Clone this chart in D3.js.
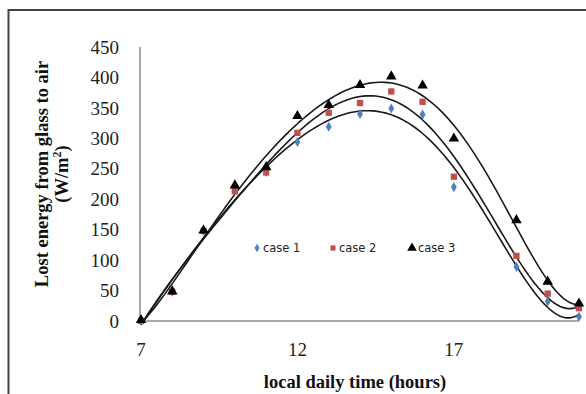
<!DOCTYPE html>
<html lang="en">
<head>
  <meta charset="UTF-8">
  <title>Lost energy from glass to air</title>
  <style>
    body { margin: 0; background: #fff; }
    svg { display: block; }
    .tick-label { font-family: "Liberation Serif", "Times New Roman", serif; font-size: 19px; fill: #222; }
    .axis-title { font-family: "Liberation Serif", "Times New Roman", serif; font-size: 18.5px; font-weight: bold; fill: #111; }
    .legend-text { font-family: "DejaVu Sans", sans-serif; font-size: 11.5px; fill: #222; }
  </style>
</head>
<body>
  <div id="chart"></div>
  <script src="https://d3js.org/d3.v7.min.js"></script>
  <script>
    // values
    const hours = [7, 8, 9, 10, 11, 12, 13, 14, 15, 16, 17, 19, 20, 21];
    const case1 = [0, 48, 148, 215, 245, 294, 319, 340, 349, 339, 220, 89, 32, 7];
    const case2 = [0, 48, 148, 213, 244, 309, 342, 358, 377, 360, 237, 107, 45, 21];
    const case3 = [0, 47, 147, 221, 251, 335, 353, 386, 400, 385, 298, 164, 63, 27];
    const xTicks = [7, 12, 17];
    const yTicks = [0, 50, 100, 150, 200, 250, 300, 350, 400, 450];
    const seriesNames = ["case 1", "case 2", "case 3"];

    const W = 586, H = 394;
    const svg = d3.select("#chart").append("svg")
      .attr("width", W).attr("height", H);

    // outer frame
    svg.append("rect")
      .attr("x", 8.5).attr("y", 10)
      .attr("width", 600).attr("height", 420)
      .attr("fill", "none").attr("stroke", "#444").attr("stroke-width", 2);

    const x = d3.scaleLinear().domain([7, 21]).range([141, 579]);
    const y = d3.scaleLinear().domain([0, 450]).range([321, 47]);

    // axis lines
    svg.append("line")
      .attr("x1", x(7) - 1).attr("x2", x(7) - 1)
      .attr("y1", y(450)).attr("y2", y(0))
      .attr("stroke", "#8c8c8c").attr("stroke-width", 1.5);
    svg.append("line")
      .attr("x1", x(7) - 1).attr("x2", x(21))
      .attr("y1", y(0)).attr("y2", y(0))
      .attr("stroke", "#8c8c8c").attr("stroke-width", 1.5);

    // tick labels
    svg.append("g").selectAll("text")
      .data(yTicks).enter().append("text")
      .attr("class", "tick-label")
      .attr("x", 119)
      .attr("y", d => y(d))
      .attr("dy", "0.35em")
      .attr("text-anchor", "end")
      .text(d => d);

    svg.append("g").selectAll("text")
      .data(xTicks).enter().append("text")
      .attr("class", "tick-label")
      .attr("x", d => x(d))
      .attr("y", 356)
      .attr("text-anchor", "middle")
      .text(d => d);

    // axis titles
    svg.append("text")
      .attr("class", "axis-title")
      .attr("x", 355).attr("y", 388)
      .attr("text-anchor", "middle")
      .text("local daily time (hours)");

    const yt = svg.append("text")
      .attr("class", "axis-title")
      .attr("transform", "translate(48,174) rotate(-90)")
      .attr("text-anchor", "middle");
    yt.append("tspan").attr("x", 0).attr("y", 0).text("Lost energy from glass to air");
    const t2 = yt.append("tspan").attr("x", 0).attr("y", 20).text("(W/m");
    t2.append("tspan").attr("dy", -7).attr("font-size", "12px").text("2");
    t2.append("tspan").attr("dy", 7).text(")");

    // least-squares polynomial trendline (like the spreadsheet's)
    function polyFit(xs, ys, order) {
      const n = order + 1;
      const sc = v => (v - 14) / 7;
      const A = [];
      for (let i = 0; i < n; i++) {
        A.push(new Array(n + 1).fill(0));
      }
      xs.forEach((xv, k) => {
        const t = sc(xv);
        for (let i = 0; i < n; i++) {
          for (let j = 0; j < n; j++) A[i][j] += Math.pow(t, i + j);
          A[i][n] += ys[k] * Math.pow(t, i);
        }
      });
      for (let c = 0; c < n; c++) {
        let p = c;
        for (let r = c + 1; r < n; r++) if (Math.abs(A[r][c]) > Math.abs(A[p][c])) p = r;
        [A[c], A[p]] = [A[p], A[c]];
        for (let r = 0; r < n; r++) {
          if (r === c) continue;
          const f = A[r][c] / A[c][c];
          for (let k = c; k <= n; k++) A[r][k] -= f * A[c][k];
        }
      }
      const coef = A.map((row, i) => row[n] / row[i]);
      return xv => coef.reduce((s, c, i) => s + c * Math.pow(sc(xv), i), 0);
    }

    const allSeries = [case1, case2, case3];
    const line = d3.line().x(d => x(d[0])).y(d => y(d[1]));
    const xs = d3.range(7, 21.001, 0.1);

    allSeries.forEach(vals => {
      const f = polyFit(hours, vals, 6);
      svg.append("path")
        .datum(xs.map(v => [v, f(v)]))
        .attr("d", line)
        .attr("fill", "none")
        .attr("stroke", "#1a1a1a")
        .attr("stroke-width", 1.6);
    });

    // markers
    const diamond = d3.symbol().type(d3.symbolDiamond).size(30);
    const square = d3.symbol().type(d3.symbolSquare).size(40);
    const triangle = d3.symbol().type(d3.symbolTriangle).size(48);

    svg.append("g").selectAll("path")
      .data(hours.map((h, i) => [h, case1[i]])).enter().append("path")
      .attr("d", diamond)
      .attr("transform", d => `translate(${x(d[0])},${y(d[1])})`)
      .attr("fill", "#4f81bd");

    svg.append("g").selectAll("path")
      .data(hours.map((h, i) => [h, case2[i]])).enter().append("path")
      .attr("d", square)
      .attr("transform", d => `translate(${x(d[0])},${y(d[1])})`)
      .attr("fill", "#c0504d");

    svg.append("g").selectAll("path")
      .data(hours.map((h, i) => [h, case3[i]])).enter().append("path")
      .attr("d", triangle)
      .attr("transform", d => `translate(${x(d[0])},${y(d[1]) - 1})`)
      .attr("fill", "#000");

    // legend
    const legendX = [257, 333, 412];
    const legendSymbols = [
      { sym: d3.symbol().type(d3.symbolDiamond).size(22), color: "#4f81bd" },
      { sym: d3.symbol().type(d3.symbolSquare).size(26), color: "#c0504d" },
      { sym: d3.symbol().type(d3.symbolTriangle).size(40), color: "#000" }
    ];
    const legend = svg.append("g").selectAll("g")
      .data(seriesNames).enter().append("g")
      .attr("transform", (d, i) => `translate(${legendX[i]},248)`);
    legend.append("path")
      .attr("d", (d, i) => legendSymbols[i].sym())
      .attr("fill", (d, i) => legendSymbols[i].color);
    legend.append("text")
      .attr("class", "legend-text")
      .attr("x", 6).attr("dy", "0.35em")
      .text(d => d);
  </script>
</body>
</html>
